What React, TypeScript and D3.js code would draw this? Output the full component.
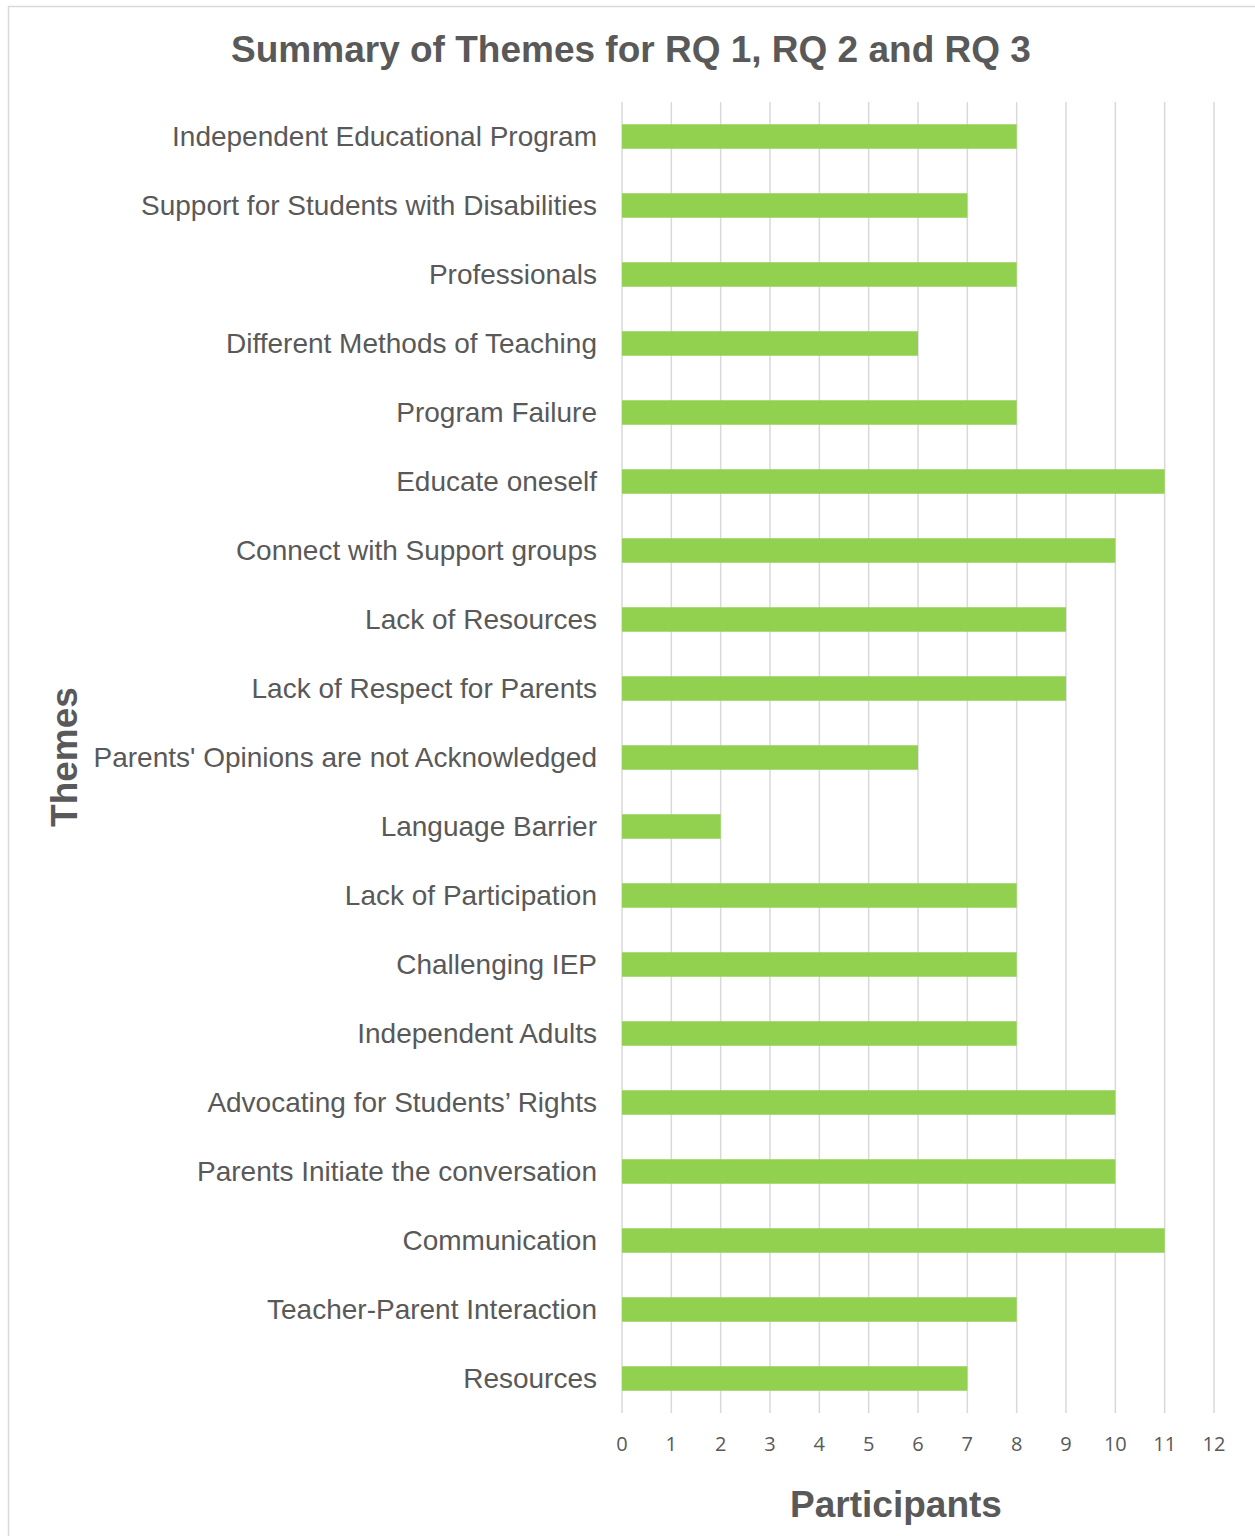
import React from "react";
import * as d3 from "d3";

const categories = [
  "Independent Educational Program",
  "Support for Students with Disabilities",
  "Professionals",
  "Different Methods of Teaching",
  "Program Failure",
  "Educate oneself",
  "Connect with Support groups",
  "Lack of Resources",
  "Lack of Respect for Parents",
  "Parents' Opinions are not Acknowledged",
  "Language Barrier",
  "Lack of Participation",
  "Challenging IEP",
  "Independent Adults",
  "Advocating for Students\u2019 Rights",
  "Parents Initiate the conversation",
  "Communication",
  "Teacher-Parent Interaction",
  "Resources",
];
const participants = [8, 7, 8, 6, 8, 11, 10, 9, 9, 6, 2, 8, 8, 8, 10, 10, 11, 8, 7];
const xTicks = [0, 1, 2, 3, 4, 5, 6, 7, 8, 9, 10, 11, 12];
const title = "Summary of Themes for RQ 1, RQ 2 and RQ 3";
const xTitle = "Participants";
const yTitle = "Themes";

const W = 1255;
const H = 1536;
const plot = { left: 622, right: 1214, top: 102, bottom: 1413 };

export default function App() {
  const x = d3.scaleLinear().domain([0, 12]).range([plot.left, plot.right]);
  const y = d3
    .scaleBand<string>()
    .domain(categories)
    .range([plot.top, plot.bottom])
    .paddingInner(0.645)
    .paddingOuter(0.3225);
  const txt = "#595959";
  return (
    <svg
      width={W}
      height={H}
      style={{ position: "absolute", left: 0, top: 0, background: "#fff" }}
      fontFamily="'Liberation Sans', Arial, sans-serif"
    >
      <rect x={0} y={0} width={W} height={H} fill="#fff" />
      <line x1={8.5} x2={8.5} y1={6} y2={H} stroke="#d9d9d9" strokeWidth={1.5} />
      <line x1={8} x2={W} y1={6.5} y2={6.5} stroke="#d9d9d9" strokeWidth={1.5} />
      <text x={631} y={62} textAnchor="middle" fontSize={37} fontWeight="bold" fill={txt}>
        {title}
      </text>
      {xTicks.map((t) => (
        <line
          key={"g" + t}
          x1={x(t)}
          x2={x(t)}
          y1={plot.top}
          y2={plot.bottom}
          stroke="#d9d9d9"
          strokeWidth={1.5}
        />
      ))}
      {categories.map((c, i) => (
        <rect
          key={"b" + c}
          x={x(0)}
          y={y(c)!}
          width={x(participants[i]) - x(0)}
          height={y.bandwidth()}
          fill="#92D050"
        />
      ))}
      {categories.map((c) => (
        <text
          key={"l" + c}
          x={597}
          y={y(c)! + y.bandwidth() / 2}
          dy="0.35em"
          textAnchor="end"
          fontSize={28}
          fill={txt}
        >
          {c}
        </text>
      ))}
      {xTicks.map((t) => (
        <text
          key={"t" + t}
          x={x(t)}
          y={1451}
          textAnchor="middle"
          fontSize={20}
          fontFamily="'Open Sans', Calibri, sans-serif"
          fill={txt}
        >
          {t}
        </text>
      ))}
      <text x={896} y={1517} textAnchor="middle" fontSize={37} fontWeight="bold" fill={txt}>
        {xTitle}
      </text>
      <text
        transform={`translate(77,757) rotate(-90)`}
        textAnchor="middle"
        fontSize={37}
        fontWeight="bold"
        fill={txt}
      >
        {yTitle}
      </text>
    </svg>
  );
}
